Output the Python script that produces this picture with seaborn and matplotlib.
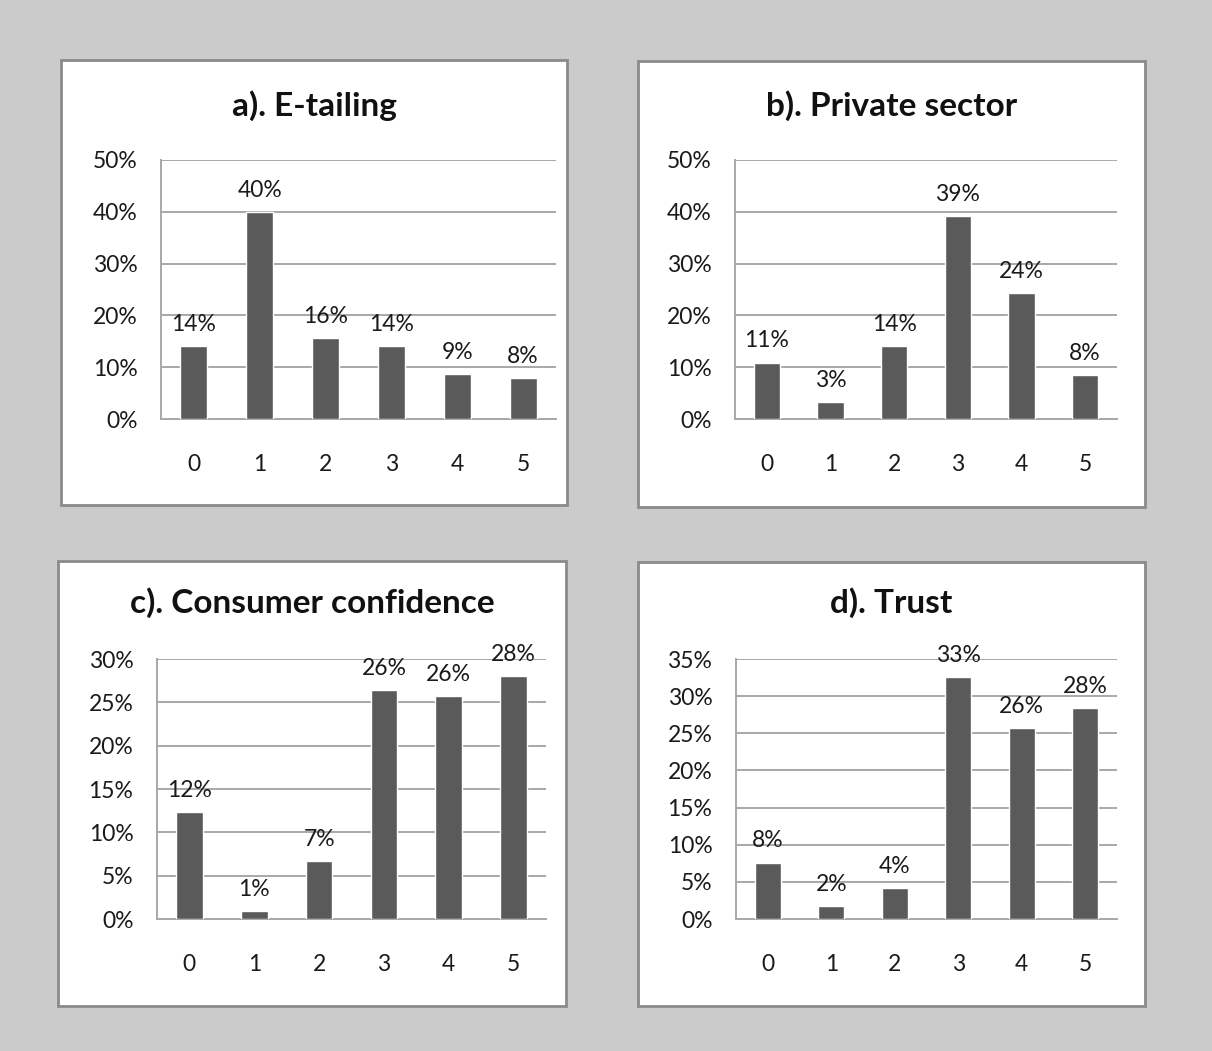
import matplotlib
matplotlib.use("Agg")
import matplotlib.pyplot as plt
from matplotlib.patches import Rectangle
import seaborn as sns
import pandas as pd

# Scores 0-5 and the share of respondents (in %) for each construct
scores = ["0", "1", "2", "3", "4", "5"]
e_tailing = [14.1, 40.0, 15.6, 14.1, 8.7, 7.9]
private_sector = [10.9, 3.3, 14.1, 39.2, 24.3, 8.4]
consumer_confidence = [12.35, 0.92, 6.7, 26.4, 25.7, 28.0]
trust = [7.6, 1.75, 4.17, 32.6, 25.75, 28.4]

titles = ["a). E-tailing", "b). Private sector",
          "c). Consumer confidence", "d). Trust"]
y_max = [50, 50, 30, 35]
y_step = [10, 10, 5, 5]

sns.set_theme(style="white")
plt.rcParams["font.family"] = ["Lato", "DejaVu Sans"]

W, H = 1212, 1051
fig = plt.figure(figsize=(W / 100, H / 100), dpi=100)
fig.patch.set_facecolor("#cbcbcb")

# pixel boxes: (left, top, right, bottom)
panel_boxes = [(61, 60, 567, 505), (638, 61, 1145, 507),
               (58, 561, 566, 1006), (638, 562, 1145, 1006)]
axes_boxes = [(161, 160, 556, 419), (735, 160, 1117, 419),
              (157, 659, 546, 919), (736, 659, 1117, 919)]
title_y = [106, 106, 603, 603]

series = [e_tailing, private_sector, consumer_confidence, trust]
bar_color = "#5a5a5a"
grid_color = "#a8a8a8"
text_color = "#1a1a1a"
label_size = 16.5

for i in range(4):
    l, t, r, b = panel_boxes[i]
    fig.patches.append(Rectangle((l / W, 1 - b / H), (r - l) / W, (b - t) / H,
                                 transform=fig.transFigure, facecolor="white",
                                 edgecolor="#8a8a8a", linewidth=2, zorder=-1))
    fig.text((l + r) / 2 / W, 1 - title_y[i] / H, titles[i],
             ha="center", va="center", fontsize=24, fontweight="bold",
             color="#111111")

    al, at, ar, ab = axes_boxes[i]
    ax = fig.add_axes([al / W, 1 - ab / H, (ar - al) / W, (ab - at) / H])
    ax.set_facecolor("none")
    df = pd.DataFrame({"score": scores, "share": series[i]})
    sns.barplot(data=df, x="score", y="share", color=bar_color,
                saturation=1, width=0.41, ax=ax, zorder=3)
    for c in ax.containers:
        ax.bar_label(c, labels=[f"{v:.0f}%" for v in series[i]],
                     padding=8, fontsize=label_size, color=text_color)
    ax.set_xlim(-0.5, 5.5)
    ax.set_ylim(0, y_max[i])
    ticks = list(range(0, y_max[i] + 1, y_step[i]))
    ax.set_yticks(ticks)
    ax.set_yticklabels([f"{v}%" for v in ticks])
    ax.yaxis.grid(True, color=grid_color, linewidth=1.4)
    ax.set_axisbelow(True)
    ax.set_xlabel("")
    ax.set_ylabel("")
    ax.tick_params(axis="y", length=0, pad=17, labelsize=label_size,
                   labelcolor=text_color)
    ax.tick_params(axis="x", length=0, pad=25, labelsize=label_size,
                   labelcolor=text_color)
    for side in ("top", "right"):
        ax.spines[side].set_visible(False)
    for side in ("left", "bottom"):
        ax.spines[side].set_color(grid_color)
        ax.spines[side].set_linewidth(1.4)

fig.savefig("out.png", dpi=100, facecolor=fig.get_facecolor())
